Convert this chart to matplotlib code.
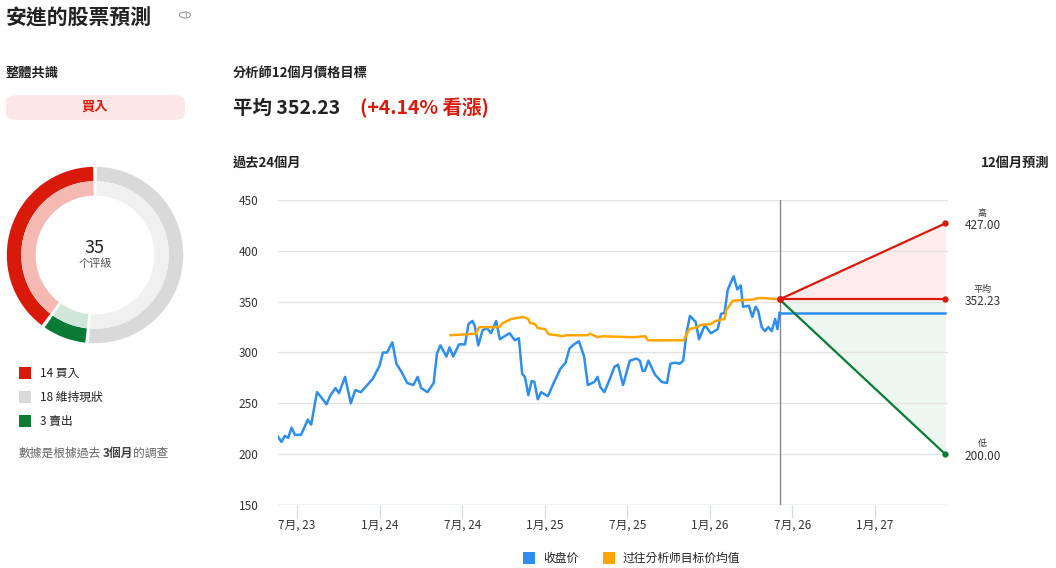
import matplotlib
matplotlib.use("Agg")
import matplotlib.pyplot as plt
from matplotlib.patches import FancyBboxPatch, Wedge, Rectangle, Circle

plt.rcParams["font.family"] = ["Noto Sans CJK TC", "DejaVu Sans"]

# months since Jul 2023
close_x = [-1.57, -1.13, -0.88, -0.64, -0.39, -0.15, 0.29, 0.79, 1.03, 1.45, 1.82, 2.14, 2.43, 2.80, 3.05,
           3.49, 3.91, 4.23, 4.64, 5.50, 6.0, 6.24, 6.54, 6.93, 7.22, 7.59, 8.01, 8.45, 8.77, 9.02, 9.48,
           9.93, 10.17, 10.42, 10.86, 11.08, 11.35, 11.77, 12.21, 12.46, 12.75, 12.92, 13.17, 13.49, 13.81,
           14.10, 14.47, 14.74, 15.08, 15.45, 15.82, 16.12, 16.36, 16.56, 16.81, 17.05, 17.25, 17.49, 17.74,
           18.23, 18.65, 19.14, 19.51, 19.80, 20.12, 20.49, 20.86, 21.13, 21.60, 21.84, 22.04, 22.33, 22.70,
           23.07, 23.32, 23.69, 24.18, 24.67, 24.91, 25.11, 25.28, 25.53, 26.02, 26.51, 26.88, 27.13, 27.49,
           27.81, 28.06, 28.31, 28.55, 28.97, 29.21, 29.63, 30.07, 30.57, 30.81, 31.06, 31.30, 31.72, 31.99,
           32.24, 32.41, 32.83, 33.08, 33.32, 33.51, 33.76, 34.00, 34.25, 34.49, 34.74, 34.91, 35.06]
close_y = [221, 212, 218, 216, 226, 219, 219, 234, 229, 261, 255, 249, 258, 265, 260,
           276, 250, 263, 261, 274, 287, 300, 300, 310, 289, 281, 270, 268, 276, 265, 261,
           270, 299, 307, 296, 305, 296, 308, 308, 328, 331, 326, 307, 322, 324,
           319, 331, 313, 316, 319, 312, 314, 279, 276, 258, 272, 271, 254, 261,
           257, 270, 284, 290, 304, 308, 311, 296, 268, 271, 276, 266, 261, 273,
           286, 288, 268, 292, 294, 292, 282, 282, 292, 278, 271, 270, 289, 290,
           289, 292, 320, 336, 330, 313, 327, 319, 323, 338, 339, 362, 375, 362,
           366, 345, 346, 335, 345, 341, 325, 321, 325, 321, 333, 323, 339]
target_x = [11.15, 13.0, 13.24, 14.7, 14.96, 15.58, 16.44, 16.8, 16.93, 17.3, 17.49, 18.03, 18.28, 18.9,
            19.26, 19.6, 21.1, 21.3, 21.84, 22.2, 24.4, 25.3, 25.5, 28.1, 28.5, 29.1, 29.3, 30.07, 30.4,
            31.06, 31.2, 31.67, 33.1, 33.5, 34.0, 34.4, 35.06]
target_y = [317, 318.5, 325, 325, 329, 333, 335, 333, 329, 328, 324, 323, 318, 317,
            316, 317, 317, 318.5, 315, 316, 315, 316, 312, 312, 323, 325, 327, 328, 331,
            333, 342, 351, 352, 353.5, 353.5, 353, 352.23]
now_x, end_x = 35.06, 47.1
last_close = 339
forecast_high, forecast_avg, forecast_low = 427.00, 352.23, 200.00
tick_pos = [0, 6, 12, 18, 24, 30, 36, 42]
tick_labels = ["7月, 23", "1月, 24", "7月, 24", "1月, 25", "7月, 25", "1月, 26", "7月, 26", "1月, 27"]
ratings = [14, 3, 18]  # buy, sell, hold (drawn counter-clockwise from top)
rating_labels = ["14 買入", "18 維持現狀", "3 賣出"]

W, H = 1056, 568
fig = plt.figure(figsize=(W / 100, H / 100), dpi=100)
RED, GREEN, BLUE, ORANGE, DARK = "#d91a0b", "#0a7a35", "#2d8ef0", "#ffa500", "#222222"


def ft(x, y, s, **kw):
    fig.text(x / W, 1 - y / H, s, va="center", **kw)


ft(6, 18, "安進的股票預測", fontsize=15, fontweight="bold", color=DARK)
# info icon
fig.patches.append(Circle((185 / W, 1 - 15 / H), 5.5 / W, transform=fig.transFigure, fc="none", ec="#999999", lw=0.8))
ft(185, 15.5, "i", fontsize=6.5, color="#999999", ha="center", family="DejaVu Sans")
ft(6, 73, "整體共識", fontsize=9.5, fontweight="bold", color=DARK)
fig.patches.append(FancyBboxPatch((6 / W, 1 - 120 / H), 179 / W, 25 / H, boxstyle="round,pad=0,rounding_size=0.012",
                                  transform=fig.transFigure, fc="#fde7e6", ec="none"))
ft(95, 107, "買入", fontsize=9.5, fontweight="bold", color=RED, ha="center")
ft(233, 73, "分析師12個月價格目標", fontsize=9.5, fontweight="bold", color=DARK)
ft(233, 108, "平均 352.23", fontsize=14, fontweight="bold", color=DARK)
ft(360, 108, "(+4.14% 看漲)", fontsize=14, fontweight="bold", color=RED)
ft(233, 163, "過去24個月", fontsize=9.5, fontweight="bold", color=DARK)
ft(1050, 163, "12個月預測", fontsize=9.5, fontweight="bold", color=DARK, ha="right")

# donut
dax = fig.add_axes([5 / W, 1 - 345 / H, 180 / W, 180 / H])
dax.set_xlim(-1, 1)
dax.set_ylim(-1, 1)
dax.set_aspect("equal")
dax.axis("off")
strong = [RED, GREEN, "#d9d9d9"]
pale = ["#f4b9b3", "#cfe6d8", "#f0f0f0"]
start = 90
total = sum(ratings)
for n, c1, c2 in zip(ratings, strong, pale):
    span = n / total * 360
    dax.add_patch(Wedge((0, 0), 0.98, start + 1.2, start + span - 1.2, width=0.16, fc=c1, ec="none"))
    dax.add_patch(Wedge((0, 0), 0.82, start + 1.2, start + span - 1.2, width=0.16, fc=c2, ec="none"))
    start += span
dax.text(0, 0.08, "35", ha="center", va="center", fontsize=13, color=DARK)
dax.text(0, -0.1, "个评級", ha="center", va="center", fontsize=8, color="#555555")

for i, (lab, c) in enumerate(zip(rating_labels, [RED, "#d9d9d9", GREEN])):
    y = 373 + i * 24
    fig.patches.append(Rectangle((19 / W, 1 - (y + 6) / H), 12 / W, 12 / H, transform=fig.transFigure, fc=c, ec="none"))
    ft(40, y, lab, fontsize=8.5, color=DARK)
ft(19, 453, "數據是根據過去", fontsize=8.5, color="#666666")
ft(103, 453, "3個月", fontsize=8.5, color="#444444", fontweight="bold")
ft(133, 453, "的調查", fontsize=8.5, color="#666666")

# price chart
ax = fig.add_axes([278 / W, 1 - 505 / H, 670 / W, 305 / H])
ax.set_xlim(-1.38, 47.3)
ax.set_ylim(150, 450)
for s in ax.spines.values():
    s.set_visible(False)
ax.set_yticks(range(150, 451, 50))
ax.grid(axis="y", color="#e3e3e3", lw=1)
ax.tick_params(axis="y", length=0, labelsize=8.5, labelcolor="#333333", pad=14)
ax.set_xticks(tick_pos)
ax.set_xticklabels(tick_labels, fontsize=8.5, color="#333333")
ax.tick_params(axis="x", length=9, color="#d0d8e8", pad=1, direction="out")
ax.axhline(150, color="#d0d8e8", lw=1)
ax.axvline(now_x, color="#888888", lw=1)

fx = [now_x, end_x]
ax.fill_between(fx, [forecast_avg, forecast_avg], [forecast_avg, forecast_high], color="#fdecec", lw=0)
ax.fill_between(fx, [forecast_avg, forecast_low], [forecast_avg, forecast_avg], color="#edf6ef", lw=0)
ax.plot(close_x, close_y, color=BLUE, lw=1.8)
ax.plot(fx, [last_close, last_close], color=BLUE, lw=1.8)
ax.plot(target_x, target_y, color=ORANGE, lw=1.8)
ax.plot(fx, [forecast_avg, forecast_high], color=RED, lw=1.6)
ax.plot(fx, [forecast_avg, forecast_avg], color=RED, lw=1.6)
ax.plot(fx, [forecast_avg, forecast_low], color=GREEN, lw=1.6)
ax.plot([now_x], [forecast_avg], "o", color=RED, ms=4)
ax.plot([end_x, end_x], [forecast_high, forecast_avg], "o", color=RED, ms=3.5)
ax.plot([end_x], [forecast_low], "o", color=GREEN, ms=3.5)
for lbl, v in [("高", forecast_high), ("平均", forecast_avg), ("低", forecast_low)]:
    ax.text(49.8, v + 10, lbl, fontsize=6.5, color="#333333", ha="center", va="center", clip_on=False)
    ax.text(49.8, v - 2, f"{v:.2f}", fontsize=8.5, color="#333333", ha="center", va="center", clip_on=False)

# legend
fig.patches.append(Rectangle((523 / W, 1 - 564 / H), 12 / W, 12 / H, transform=fig.transFigure, fc=BLUE, ec="none"))
ft(543, 558, "收盘价", fontsize=8.5, color=DARK)
fig.patches.append(Rectangle((603 / W, 1 - 564 / H), 12 / W, 12 / H, transform=fig.transFigure, fc=ORANGE, ec="none"))
ft(623, 558, "过往分析师目标价均值", fontsize=8.5, color=DARK)

fig.savefig("out.png", dpi=100)
